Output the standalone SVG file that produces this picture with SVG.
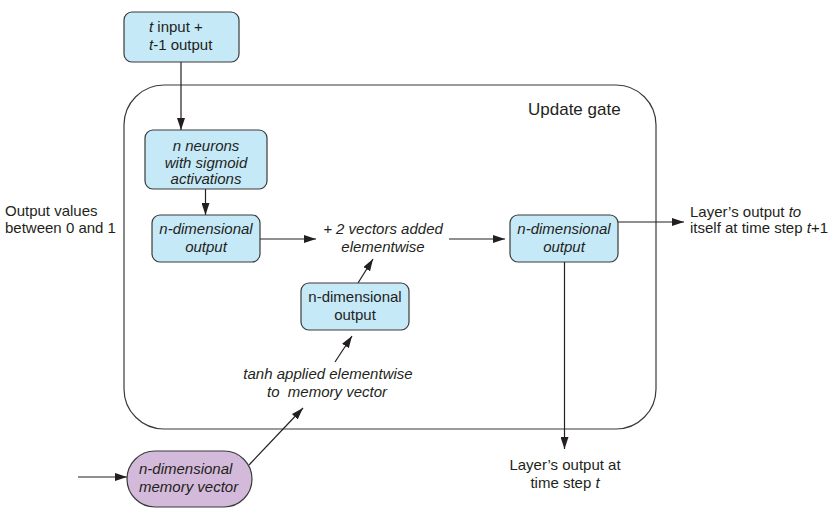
<svg xmlns="http://www.w3.org/2000/svg" width="835" height="516" viewBox="0 0 835 516">
<style>
text{font-family:"Liberation Sans",Arial,sans-serif;font-size:15px;fill:#231f20}
.i{font-style:italic}
.c{text-anchor:middle}
.box{fill:#c6e9f8;stroke:#3a3a3a;stroke-width:1.2}
.mem{fill:#d3bada;stroke:#3a3a3a;stroke-width:1.2}
.ln{fill:none;stroke:#231f20;stroke-width:1.2}
</style>
<defs>
<marker id="ah" viewBox="0 0 12 8" refX="12" refY="4" markerWidth="12" markerHeight="8" markerUnits="userSpaceOnUse" orient="auto">
<path d="M0,0 L12,4 L0,8 Z" fill="#231f20"/>
</marker>
</defs>
<rect x="0" y="0" width="835" height="516" fill="#ffffff"/>
<g id="update-gate">
<rect x="124" y="85" width="532" height="344" rx="40" ry="40" fill="none" stroke="#3a3a3a" stroke-width="1.2"/>
<text x="528" y="115" style="font-size:17px">Update gate</text>
</g>
<g id="connectors">
<line class="ln" x1="181" y1="62" x2="181" y2="130" marker-end="url(#ah)"/>
<line class="ln" x1="205.5" y1="189" x2="205.5" y2="215" marker-end="url(#ah)"/>
<line class="ln" x1="260" y1="239" x2="316" y2="239" marker-end="url(#ah)"/>
<line class="ln" x1="449" y1="239" x2="505" y2="239" marker-end="url(#ah)"/>
<line class="ln" x1="358" y1="283" x2="373" y2="259" marker-end="url(#ah)"/>
<line class="ln" x1="335" y1="362" x2="352" y2="336" marker-end="url(#ah)"/>
<line class="ln" x1="249" y1="465" x2="303" y2="408" marker-end="url(#ah)"/>
<line class="ln" x1="78" y1="477" x2="127" y2="477" marker-end="url(#ah)"/>
<line class="ln" x1="618" y1="222" x2="684" y2="222" marker-end="url(#ah)"/>
<line class="ln" x1="564.5" y1="262" x2="564.5" y2="449" marker-end="url(#ah)"/>
</g>
<g id="input">
<rect class="box" x="124" y="12" width="115" height="50" rx="8"/>
<text x="149" y="32"><tspan class="i">t</tspan> input +</text>
<text x="149" y="50"><tspan class="i">t</tspan>-1 output</text>
</g>
<g id="neurons">
<rect class="box" x="145" y="130" width="122" height="59" rx="8"/>
<text class="i c" x="206" y="151">n neurons</text>
<text class="i c" x="206" y="168">with sigmoid</text>
<text class="i c" x="206" y="184">activations</text>
</g>
<g id="sigmoid-output">
<rect class="box" x="152" y="215" width="108" height="47" rx="8"/>
<text class="i c" x="206" y="234">n-dimensional</text>
<text class="i c" x="206" y="252">output</text>
</g>
<g id="output-note">
<text x="5" y="216">Output values</text>
<text x="5" y="233">between 0 and 1</text>
</g>
<g id="add">
<text class="i c" x="383" y="234">+ 2 vectors added</text>
<text class="i c" x="383" y="252">elementwise</text>
</g>
<g id="result">
<rect class="box" x="510" y="215" width="108" height="47" rx="8"/>
<text class="i c" x="564" y="234">n-dimensional</text>
<text class="i c" x="564" y="252">output</text>
</g>
<g id="tanh-output">
<rect class="box" x="301" y="283" width="108" height="47" rx="8"/>
<text class="c" x="355" y="302">n-dimensional</text>
<text class="c" x="355" y="320">output</text>
</g>
<g id="tanh">
<text class="i c" x="328" y="379">tanh applied elementwise</text>
<text class="i c" x="327" y="397" xml:space="preserve">to  memory vector</text>
</g>
<g id="memory">
<rect class="mem" x="127" y="451" width="125" height="56" rx="28" ry="28"/>
<text class="i" x="139" y="474">n-dimensional</text>
<text class="i" x="139" y="492">memory vector</text>
</g>
<g id="out-next">
<text x="690" y="217">Layer’s output <tspan class="i">to</tspan></text>
<text x="690" y="233">itself at time step <tspan class="i">t</tspan>+1</text>
</g>
<g id="out-t">
<text class="c" x="565" y="470">Layer’s output at</text>
<text class="c" x="565" y="488">time step <tspan class="i">t</tspan></text>
</g>
</svg>
